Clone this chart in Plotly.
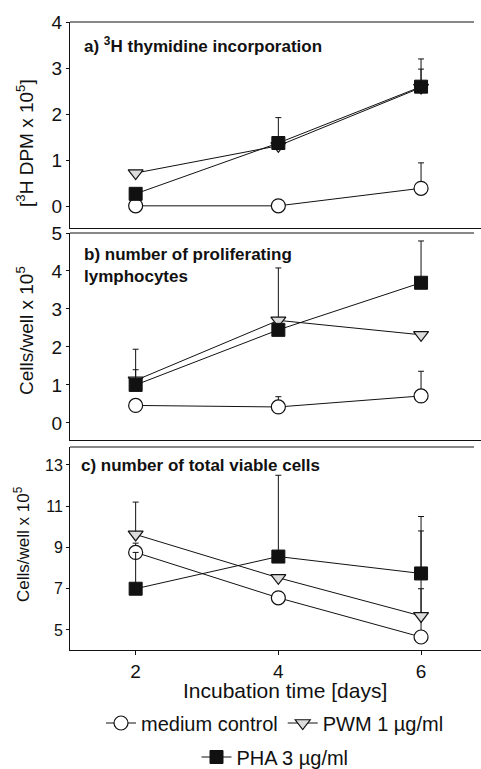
import plotly.graph_objects as go

W, H = 481, 769
days = [2, 4, 6]
series_names = ["medium control", "PWM 1 µg/ml", "PHA 3 µg/ml"]

# Panel a: 3H thymidine incorporation (DPM x 10^5)
a_medium = [0.02, 0.02, 0.40]
a_pwm = [0.73, 1.32, 2.58]
a_pha = [0.28, 1.38, 2.60]
a_medium_err = [0, 0, 0.55]
a_pwm_err = [0, 0, 0.40]
a_pha_err = [0, 0.55, 0.60]

# Panel b: proliferating lymphocytes (cells/well x 10^5)
b_medium = [0.46, 0.42, 0.71]
b_pwm = [1.12, 2.70, 2.32]
b_pha = [1.00, 2.45, 3.69]
b_medium_err = [0, 0.27, 0.65]
b_pwm_err = [0.28, 1.38, 0]
b_pha_err = [0.94, 0, 1.10]

# Panel c: total viable cells (cells/well x 10^5)
c_medium = [8.76, 6.56, 4.66]
c_pwm = [9.63, 7.53, 5.68]
c_pha = [7.00, 8.56, 7.74]
c_medium_err = [0.45, 0, 2.34]
c_pwm_err = [1.57, 0, 4.12]
c_pha_err = [1.76, 3.94, 2.76]

a_ticks = [0, 1, 2, 3, 4]
b_ticks = [0, 1, 2, 3, 4, 5]
c_ticks = [5, 7, 9, 11, 13]

FONT = "Liberation Sans, Arial, sans-serif"
BLACK = "#111111"

def px(x):
    return x / W

def py(y):
    return 1 - y / H

styles = [
    dict(symbol="circle", size=14, color="white", line=dict(color=BLACK, width=1.2)),
    dict(symbol="triangle-down", size=13, color="#dcdcdc", line=dict(color=BLACK, width=1.2)),
    dict(symbol="square", size=13, color=BLACK, line=dict(color=BLACK, width=1)),
]
legend_ids = ["legend", "legend", "legend2"]

fig = go.Figure()
panels = [
    ("x", "y", [a_medium, a_pwm, a_pha], [a_medium_err, a_pwm_err, a_pha_err]),
    ("x2", "y2", [b_medium, b_pwm, b_pha], [b_medium_err, b_pwm_err, b_pha_err]),
    ("x3", "y3", [c_medium, c_pwm, c_pha], [c_medium_err, c_pwm_err, c_pha_err]),
]
for pi, (xa, ya, vals, errs) in enumerate(panels):
    for si in range(3):
        fig.add_trace(go.Scatter(
            x=days, y=vals[si], xaxis=xa, yaxis=ya,
            mode="lines+markers", name=series_names[si],
            showlegend=(pi == 2), legend=legend_ids[si],
            line=dict(color=BLACK, width=1),
            marker=styles[si],
            error_y=dict(type="data", symmetric=False, array=errs[si],
                         arrayminus=[0, 0, 0], color=BLACK, thickness=1, width=3),
            cliponaxis=False,
        ))

xdom = [px(70), 1.0]
xrange = [1.08, 6.84]
axis_common = dict(showline=True, linecolor=BLACK, linewidth=1, showgrid=False, zeroline=False,
                   automargin=False, mirror=False, showspikes=False)

fig.update_layout(
    template="none",
    width=W, height=H,
    margin=dict(l=0, r=0, t=0, b=0, autoexpand=False),
    paper_bgcolor="white", plot_bgcolor="rgba(0,0,0,0)",
    font=dict(family=FONT, color=BLACK),
    hovermode=False,
    xaxis=dict(domain=xdom, range=xrange, anchor="y", showticklabels=False, ticks="", **axis_common),
    xaxis2=dict(domain=xdom, range=xrange, anchor="y2", showticklabels=False, ticks="", **axis_common),
    xaxis3=dict(domain=xdom, range=xrange, anchor="y3", tickvals=days, ticks="outside",
                ticklen=4, tickcolor=BLACK, tickfont=dict(size=19, family=FONT), **axis_common),
    yaxis=dict(domain=[py(228), py(22)], range=[-0.46, 4.0], anchor="x", tickvals=a_ticks, ticks="outside",
               ticklen=3, tickcolor=BLACK, tickfont=dict(size=19, family=FONT), **axis_common),
    yaxis2=dict(domain=[py(440), py(233)], range=[-0.45, 5.0], anchor="x2", tickvals=b_ticks, ticks="outside",
                ticklen=3, tickcolor=BLACK, tickfont=dict(size=19, family=FONT), **axis_common),
    yaxis3=dict(domain=[py(650), py(447)], range=[4.03, 13.87], anchor="x3", tickvals=c_ticks, ticks="outside",
                ticklen=3, tickcolor=BLACK, tickfont=dict(size=16, family=FONT), **axis_common),
    legend=dict(orientation="h", x=px(275), xanchor="center", y=py(723), yanchor="middle",
                font=dict(size=20, family=FONT), itemwidth=30, tracegroupgap=0, bgcolor="rgba(0,0,0,0)"),
    legend2=dict(orientation="h", x=px(275), xanchor="center", y=py(757), yanchor="middle",
                 font=dict(size=20, family=FONT), itemwidth=30, bgcolor="rgba(0,0,0,0)"),
)

# top border lines of the three panels
for ytop in [22, 233, 447]:
    fig.add_shape(type="line", xref="paper", yref="paper", x0=px(70), x1=px(474),
                  y0=py(ytop), y1=py(ytop), line=dict(color=BLACK, width=1))

annos = [
    dict(text="<b>a) <sup>3</sup>H thymidine incorporation</b>", x=px(82), y=py(45), size=17),
    dict(text="<b>b) number of proliferating<br>lymphocytes</b>", x=px(82), y=py(265), size=17),
    dict(text="<b>c) number of total viable cells</b>", x=px(79), y=py(465), size=17),
]
for a in annos:
    fig.add_annotation(text=a["text"], x=a["x"], y=a["y"], xref="paper", yref="paper",
                       xanchor="left", yanchor="middle", showarrow=False, align="left",
                       font=dict(size=a["size"], family=FONT, color=BLACK))

titles = [
    dict(text="[<sup>3</sup>H DPM x 10<sup>5</sup>]", x=px(25), y=py(143), size=19),
    dict(text="Cells/well x 10<sup>5</sup>", x=px(25), y=py(331), size=19),
    dict(text="Cells/well x 10<sup>5</sup>", x=px(22), y=py(544), size=17),
]
for t in titles:
    fig.add_annotation(text=t["text"], x=t["x"], y=t["y"], xref="paper", yref="paper",
                       xanchor="center", yanchor="middle", textangle=-90, showarrow=False,
                       font=dict(size=t["size"], family=FONT, color=BLACK))

fig.add_annotation(text="Incubation time [days]", x=px(285), y=py(690), xref="paper", yref="paper",
                   xanchor="center", yanchor="middle", showarrow=False,
                   font=dict(size=21, family=FONT, color=BLACK))

fig.write_html(
    "out.html",
    config={"displayModeBar": False, "staticPlot": True},
    post_script="document.body.style.margin='0px';document.body.style.overflow='hidden';",
)
